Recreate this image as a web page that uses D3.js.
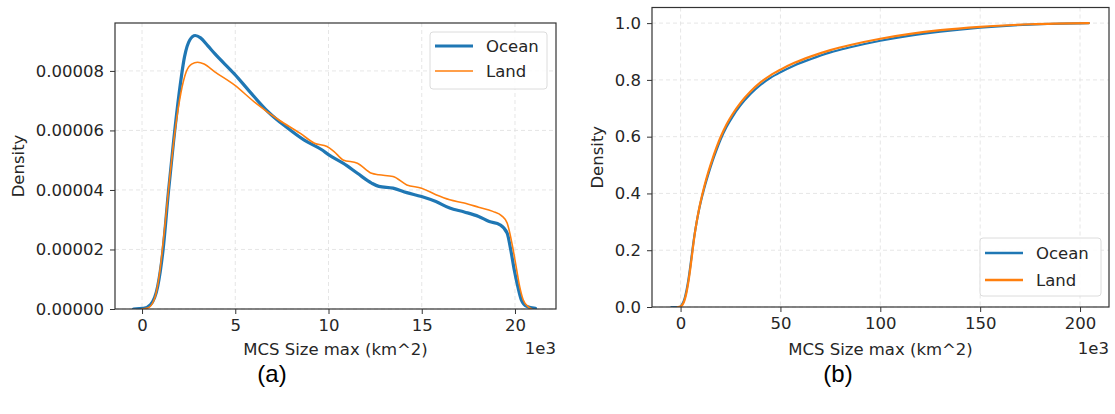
<!DOCTYPE html>
<html>
<head>
<meta charset="utf-8">
<script src="https://cdn.jsdelivr.net/npm/d3@7"></script>
<style>
  html, body { margin: 0; padding: 0; background: #fff; }
  svg { display: block; }
  text { font-family: "DejaVu Sans", sans-serif; fill: #262626; }
</style>
</head>
<body>
<svg id="chart" width="1115" height="414"></svg>
<script>
// ---------- Data (x in units of 1e3 km^2) ----------
const seriesNames = ["Ocean", "Land"];
const seriesColors = ["#1f77b4", "#ff7f0e"];

// Panel (a): kernel density estimates
const kdeOceanX = [-0.46, 0.08, 0.46, 0.84, 1.13, 1.41, 1.70, 1.99, 2.28, 2.56, 2.85, 3.14, 3.52, 3.90, 4.95, 5.81, 6.77, 7.72, 8.68, 9.64, 10.02, 10.78, 11.55, 12.31, 12.7, 13.46, 14.2, 14.99, 15.76, 16.5, 17.28, 18.05, 18.62, 19.2, 19.58, 19.77, 19.96, 20.15, 20.34, 20.63, 21.1];
const kdeOceanY = [0, 0.02e-5, 0.15e-5, 0.76e-5, 2.0e-5, 3.9e-5, 5.68e-5, 7.25e-5, 8.48e-5, 9.04e-5, 9.19e-5, 9.11e-5, 8.85e-5, 8.58e-5, 7.90e-5, 7.28e-5, 6.62e-5, 6.12e-5, 5.68e-5, 5.35e-5, 5.18e-5, 4.9e-5, 4.56e-5, 4.23e-5, 4.12e-5, 4.06e-5, 3.91e-5, 3.78e-5, 3.61e-5, 3.39e-5, 3.26e-5, 3.11e-5, 2.94e-5, 2.83e-5, 2.55e-5, 2.0e-5, 1.32e-5, 0.76e-5, 0.31e-5, 0.09e-5, 0.02e-5];
const kdeLandX = [0.0, 0.3, 0.65, 0.94, 1.22, 1.51, 1.80, 2.08, 2.37, 2.66, 2.98, 3.33, 3.90, 4.95, 6.0, 7.34, 8.49, 9.25, 9.92, 10.3, 10.78, 11.55, 12.31, 12.7, 13.46, 14.2, 14.99, 15.76, 16.5, 17.28, 18.05, 18.81, 19.29, 19.58, 19.87, 20.06, 20.25, 20.44, 20.72, 20.9];
const kdeLandY = [0, 0.03e-5, 0.31e-5, 1.2e-5, 2.77e-5, 4.56e-5, 6.13e-5, 7.25e-5, 7.97e-5, 8.23e-5, 8.29e-5, 8.23e-5, 7.97e-5, 7.53e-5, 6.97e-5, 6.35e-5, 5.9e-5, 5.57e-5, 5.46e-5, 5.29e-5, 5.01e-5, 4.9e-5, 4.56e-5, 4.51e-5, 4.45e-5, 4.17e-5, 4.06e-5, 3.84e-5, 3.67e-5, 3.56e-5, 3.42e-5, 3.28e-5, 3.13e-5, 2.89e-5, 2.1e-5, 1.43e-5, 0.76e-5, 0.31e-5, 0.07e-5, 0];

// Panel (b): cumulative distributions
const cdfOceanX = [-4.6, -0.5, 1, 2, 3, 4, 5, 6, 7, 8, 9, 10, 12, 14, 16, 18, 20, 23, 26, 30, 35, 40, 45, 50, 57, 65, 75, 85, 100, 115, 130, 150, 175, 204.4];
const cdfOceanY = [0, 0, 0.012, 0.03, 0.06, 0.10, 0.15, 0.205, 0.255, 0.297, 0.334, 0.366, 0.422, 0.47, 0.514, 0.553, 0.589, 0.634, 0.670, 0.710, 0.750, 0.782, 0.807, 0.827, 0.851, 0.873, 0.897, 0.915, 0.938, 0.956, 0.970, 0.984, 0.995, 1.0];
const cdfLandX = [-1.4, 0.2, 1, 2, 3, 4, 5, 6, 7, 8, 9, 10, 12, 14, 16, 18, 20, 23, 26, 30, 35, 40, 45, 50, 57, 65, 75, 85, 100, 115, 130, 150, 175, 204.4];
const cdfLandY = [0, 0.003, 0.008, 0.024, 0.052, 0.092, 0.142, 0.198, 0.252, 0.297, 0.336, 0.37, 0.428, 0.478, 0.522, 0.562, 0.598, 0.643, 0.679, 0.719, 0.759, 0.791, 0.816, 0.836, 0.860, 0.882, 0.905, 0.923, 0.945, 0.962, 0.975, 0.987, 0.996, 1.0];

// Tick values
const kdeXTicks = [0, 5, 10, 15, 20];
const kdeYTicks = [0, 0.00002, 0.00004, 0.00006, 0.00008];
const cdfXTicks = [0, 50, 100, 150, 200];
const cdfYTicks = [0, 0.2, 0.4, 0.6, 0.8, 1.0];

const captions = ["(a)", "(b)"];
const xLabel = "MCS Size max (km^2)";
const yLabel = "Density";

// ---------- Drawing ----------
const svg = d3.select("#chart");
const FS = 16.5;

function zip(xs, ys) { return xs.map((x, i) => [x, ys[i]]); }

function panel(cfg) {
  const { left, right, top, bottom, xDomain, yDomain, xTicks, yTicks, yFmt,
          series, widths, legendBox, legendWidths, yLabelX, caption, captionX } = cfg;
  const x = d3.scaleLinear().domain(xDomain).range([left, right]);
  const y = d3.scaleLinear().domain(yDomain).range([bottom, top]);
  const g = svg.append("g");

  // grid
  const grid = g.append("g");
  grid.selectAll(".gx").data(xTicks).join("line")
    .attr("x1", d => x(d)).attr("x2", d => x(d))
    .attr("y1", top).attr("y2", bottom)
    .attr("stroke", "#e3e3e3").attr("stroke-width", 0.9).attr("stroke-dasharray", "4,3");
  grid.selectAll(".gy").data(yTicks).join("line")
    .attr("x1", left).attr("x2", right)
    .attr("y1", d => y(d)).attr("y2", d => y(d))
    .attr("stroke", "#e3e3e3").attr("stroke-width", 0.9).attr("stroke-dasharray", "4,3");

  // lines
  const line = d3.line().x(d => x(d[0])).y(d => y(d[1])).curve(d3.curveMonotoneX);
  const clipId = "clip" + caption.replace(/\W/g, "");
  g.append("clipPath").attr("id", clipId).append("rect")
    .attr("x", left).attr("y", top).attr("width", right - left).attr("height", bottom - top);
  series.forEach((s, i) => {
    g.append("path").datum(s).attr("d", line)
      .attr("fill", "none").attr("stroke", seriesColors[i])
      .attr("stroke-width", widths[i]).attr("stroke-linejoin", "round").attr("stroke-linecap", "round")
      .attr("clip-path", `url(#${clipId})`);
  });

  // axes
  const xAxis = d3.axisBottom(x).tickValues(xTicks).tickSize(5).tickPadding(5).tickFormat(d3.format("d"));
  const yAxis = d3.axisLeft(y).tickValues(yTicks).tickSize(5).tickPadding(6).tickFormat(yFmt);
  const gx = g.append("g").attr("transform", `translate(0,${bottom})`).call(xAxis);
  const gy = g.append("g").attr("transform", `translate(${left},0)`).call(yAxis);
  [gx, gy].forEach(a => {
    a.select(".domain").remove();
    a.selectAll(".tick line").attr("stroke", "#333").attr("stroke-width", 1);
    a.selectAll(".tick text").attr("font-size", FS).attr("fill", "#262626")
      .attr("font-family", "DejaVu Sans, sans-serif");
  });
  gx.selectAll(".tick text").attr("dy", "0.71em");

  // frame
  g.append("rect").attr("x", left).attr("y", top)
    .attr("width", right - left).attr("height", bottom - top)
    .attr("fill", "none").attr("stroke", "#333").attr("stroke-width", 1.2);

  // labels
  g.append("text").attr("x", (left + right) / 2).attr("y", 355)
    .attr("text-anchor", "middle").attr("font-size", FS).text(xLabel);
  g.append("text").attr("x", right).attr("y", 354)
    .attr("text-anchor", "end").attr("font-size", FS).text("1e3");
  g.append("text").attr("transform", `translate(${yLabelX},${(top + bottom) / 2}) rotate(-90)`)
    .attr("text-anchor", "middle").attr("font-size", FS).text(yLabel);

  // legend
  const lb = legendBox;
  const lg = g.append("g");
  lg.append("rect").attr("x", lb.x).attr("y", lb.y).attr("width", lb.w).attr("height", lb.h)
    .attr("rx", 3).attr("fill", "#fff").attr("fill-opacity", 0.85)
    .attr("stroke", "#dcdcdc").attr("stroke-width", 1);
  seriesNames.forEach((name, i) => {
    const yy = lb.y + lb.row0 + i * lb.rowH;
    lg.append("line").attr("x1", lb.x + 5).attr("x2", lb.x + 43)
      .attr("y1", yy).attr("y2", yy)
      .attr("stroke", seriesColors[i]).attr("stroke-width", legendWidths[i]);
    lg.append("text").attr("x", lb.x + 56).attr("y", yy).attr("dy", "0.36em")
      .attr("font-size", FS).text(name);
  });

  // caption
  svg.append("text").attr("x", captionX).attr("y", 382).attr("text-anchor", "middle")
    .style("font-family", "'Liberation Sans', Arial, sans-serif")
    .attr("font-size", 24).style("fill", "#000").text(caption);
}

panel({
  left: 115, right: 556, top: 23, bottom: 309,
  xDomain: [-1.45, 22.2], yDomain: [0, 0.0000961],
  xTicks: kdeXTicks, yTicks: kdeYTicks, yFmt: d3.format(".5f"),
  series: [zip(kdeOceanX, kdeOceanY), zip(kdeLandX, kdeLandY)],
  widths: [3.2, 1.6],
  legendBox: { x: 430, y: 32, w: 117, h: 57, row0: 14, rowH: 25 },
  legendWidths: [3.2, 1.6],
  yLabelX: 24, caption: captions[0], captionX: 272
});

panel({
  left: 652, right: 1109, top: 7.5, bottom: 307,
  xDomain: [-14.3, 214.5], yDomain: [0, 1.055],
  xTicks: cdfXTicks, yTicks: cdfYTicks, yFmt: d3.format(".1f"),
  series: [zip(cdfOceanX, cdfOceanY), zip(cdfLandX, cdfLandY)],
  widths: [2.2, 2.2],
  legendBox: { x: 980, y: 238, w: 121, h: 58, row0: 15, rowH: 27 },
  legendWidths: [2.4, 2.4],
  yLabelX: 603, caption: captions[1], captionX: 838
});
</script>
</body>
</html>
